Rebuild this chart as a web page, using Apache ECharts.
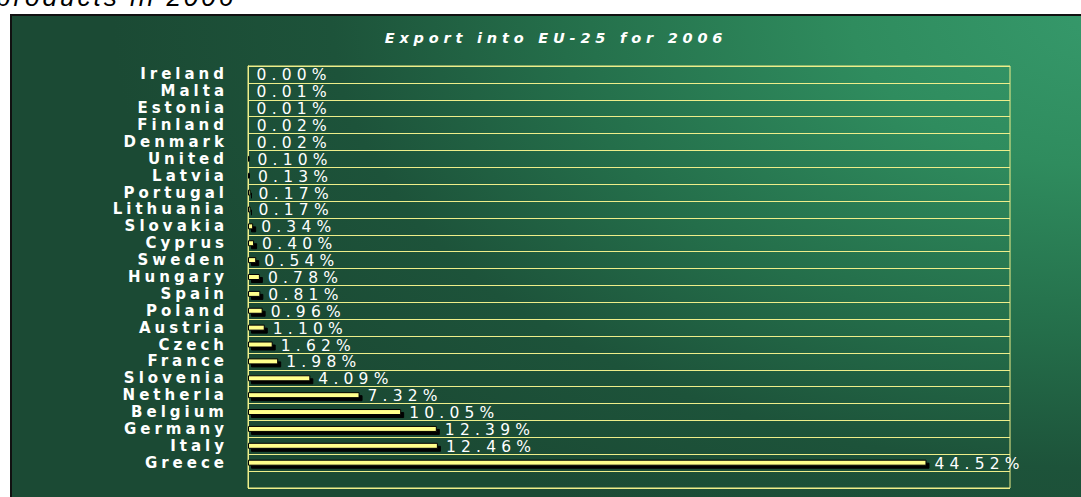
<!DOCTYPE html>
<html>
<head>
<meta charset="utf-8">
<script src="https://cdn.jsdelivr.net/npm/echarts@6/dist/echarts.min.js"></script>
<style>
  html, body { margin: 0; padding: 0; background: #ffffff; width: 1081px; height: 497px; overflow: hidden; }
  #frame {
    position: absolute; left: 10px; top: 14px; width: 1100px; height: 520px;
    border: 2px solid #111;
    background: radial-gradient(ellipse 1000px 580px at 100% 0%, #36996b 0%, #2f8c5e 26%, #246e4a 55%, #1d533a 78%, #1b4a34 100%);
  }
  #chart { position: absolute; left: 0; top: 0; width: 1081px; height: 497px; }
  #chart text[style*="15px"] { letter-spacing: 4px; }
  #chart text[style*="15.5px"] { letter-spacing: 5.2px; }
  #chart text[style*="14.5px"] { letter-spacing: 4.8px; }
  #chart text[style*="26px"] { letter-spacing: 3px; }
</style>
</head>
<body>
<div id="frame"></div>
<div id="chart"></div>
<script>
const categories = ['Ireland','Malta','Estonia','Finland','Denmark','United','Latvia','Portugal','Lithuania','Slovakia','Cyprus','Sweden','Hungary','Spain','Poland','Austria','Czech','France','Slovenia','Netherla','Belgium','Germany','Italy','Greece'];
const values = [0.00,0.01,0.01,0.02,0.02,0.10,0.13,0.17,0.17,0.34,0.40,0.54,0.78,0.81,0.96,1.10,1.62,1.98,4.09,7.32,10.05,12.39,12.46,44.52];
const chartTitle = 'Export into EU-25 for 2006';
const pageHeading = 'products in 2006';

const chart = echarts.init(document.getElementById('chart'), null, { renderer: 'svg' });
const gridColor = '#eeee8a';

chart.setOption({
  animation: false,
  backgroundColor: 'transparent',
  graphic: [
    { type: 'text', x: -4, y: -3, style: { text: pageHeading, fill: '#000', font: 'italic 26px "Liberation Sans", Arial, sans-serif', textAlign: 'left', textVerticalAlign: 'middle' } },
    { type: 'text', x: 556, y: 38, style: { text: chartTitle, fill: '#ffffff', font: 'italic bold 14.5px "DejaVu Sans", sans-serif', textAlign: 'center', textVerticalAlign: 'middle' } }
  ],
  grid: { left: 248, top: 66, width: 762, height: 422, show: true, borderColor: gridColor, borderWidth: 1, backgroundColor: 'transparent', containLabel: false },
  xAxis: {
    type: 'value', min: 0, max: 50,
    axisLabel: { show: false }, axisLine: { show: false }, axisTick: { show: false }, splitLine: { show: false }
  },
  yAxis: {
    type: 'category', inverse: true,
    data: categories.concat(['']),
    axisLine: { show: true, lineStyle: { color: gridColor, width: 1 } },
    axisTick: { show: false },
    splitLine: { show: true, interval: 0, lineStyle: { color: gridColor, width: 1 } },
    axisLabel: { interval: 0, margin: 20, color: '#ffffff', fontFamily: 'DejaVu Sans', fontWeight: 'bold', fontSize: 15, lineHeight: 15 }
  },
  series: [{
    type: 'bar',
    data: values.concat(['-']),
    barWidth: 6,
    itemStyle: { color: '#ffff8c', borderColor: '#000', borderWidth: 1, shadowColor: '#000', shadowOffsetX: 3, shadowOffsetY: 3, shadowBlur: 0 },
    label: {
      show: true, position: 'right', distance: 8, offset: [0, 1],
      color: '#ffffff', fontFamily: 'DejaVu Sans', fontSize: 15.5, lineHeight: 15,
      formatter: p => (typeof p.value === 'number' ? p.value.toFixed(2) + '%' : '')
    }
  }]
});
</script>
</body>
</html>
